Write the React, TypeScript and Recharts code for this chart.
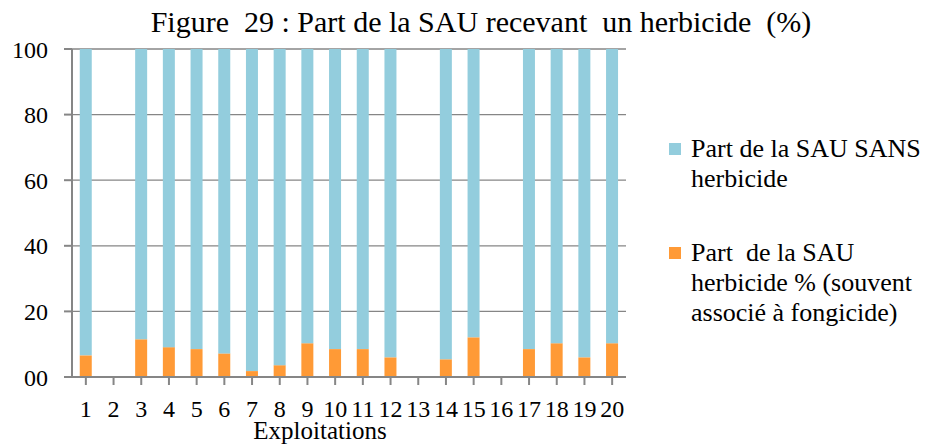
import { Bar, BarChart, CartesianGrid, XAxis, YAxis } from 'recharts';

const exploitations = ['1', '2', '3', '4', '5', '6', '7', '8', '9', '10', '11', '12', '13', '14', '15', '16', '17', '18', '19', '20'];
const partAvecHerbicide = [6.6, null, 11.5, 9.1, 8.5, 7.2, 1.8, 3.6, 10.3, 8.5, 8.5, 6.0, null, 5.4, 12.1, null, 8.5, 10.3, 6.0, 10.3];
const partSansHerbicide = [93.4, null, 88.5, 90.9, 91.5, 92.8, 98.2, 96.4, 89.7, 91.5, 91.5, 94.0, null, 94.6, 87.9, null, 91.5, 89.7, 94.0, 89.7];
const yTicks = [0, 20, 40, 60, 80, 100];

const legendItems = [
  { color: '#93cddd', lines: ['Part de la SAU SANS', 'herbicide'] },
  { color: '#ff9a36', lines: ['Part  de la SAU', 'herbicide % (souvent', 'associé à fongicide)'] },
];

const data = exploitations.map((name, i) => ({
  name,
  avec: partAvecHerbicide[i],
  sans: partSansHerbicide[i],
}));

const serif = 'Liberation Serif';
const axisColor = '#868686';

export default function App() {
  return (
    <div style={{ position: 'relative', width: 921, height: 436, fontFamily: serif }}>
      <div
        style={{
          position: 'absolute',
          left: 0,
          width: 946,
          top: -3,
          textAlign: 'center',
          fontSize: 30,
          fontFamily: serif,
          whiteSpace: 'pre',
          color: '#000',
        }}
      >
        {'Figure  29 : Part de la SAU recevant  un herbicide  (%)'}
      </div>
      <BarChart
        width={921}
        height={436}
        data={data}
        margin={{ top: 41, right: 303, bottom: 0, left: 0 }}
        barCategoryGap="28%"
        style={{ fontFamily: serif }}
      >
        <CartesianGrid vertical={false} stroke={axisColor} strokeWidth={1.3} />
        <XAxis
          dataKey="name"
          interval={0}
          height={67}
          stroke={axisColor}
          strokeWidth={2}
          tickSize={8}
          tickMargin={15}
          tick={{ fill: '#000', fontSize: 24, fontFamily: serif }}
          label={{
            value: 'Exploitations',
            position: 'insideBottom',
            offset: 5,
            dx: -29,
            fill: '#000',
            fontSize: 25,
            fontFamily: serif,
          }}
        />
        <YAxis
          width={64}
          domain={[0, 100]}
          ticks={yTicks}
          interval={0}
          stroke={axisColor}
          strokeWidth={2}
          tickSize={8}
          tickMargin={16}
          tickFormatter={(v: number) => (v === 0 ? '00' : String(v))}
          tick={{ fill: '#000', fontSize: 24, fontFamily: serif }}
        />
        <Bar dataKey="avec" stackId="a" fill="#ff9a36" isAnimationActive={false} />
        <Bar dataKey="sans" stackId="a" fill="#93cddd" isAnimationActive={false} />
      </BarChart>
      <div
        style={{
          position: 'absolute',
          left: 661,
          top: 126,
          fontSize: 26,
          lineHeight: '30px',
          fontFamily: serif,
          color: '#000',
        }}
      >
        {legendItems.map((item, i) => (
          <div key={i} style={{ position: 'relative', paddingLeft: 22, marginBottom: i === 0 ? 44 : 0, whiteSpace: 'pre' }}>
            <span
              style={{
                position: 'absolute',
                left: 0,
                top: 9,
                width: 12,
                height: 12,
                background: item.color,
              }}
            />
            {item.lines.map((line, j) => (
              <div key={j}>{line}</div>
            ))}
          </div>
        ))}
      </div>
    </div>
  );
}
